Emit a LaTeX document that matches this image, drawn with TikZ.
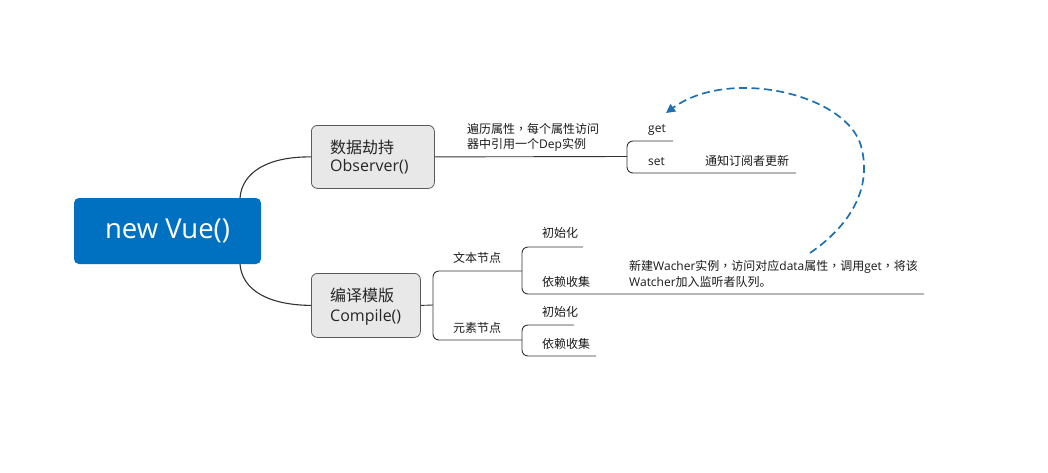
\documentclass[tikz,border=0pt]{standalone}
\usepackage{fontspec}
\setmainfont{Open Sans}
\newfontfamily\cjk{Noto Sans CJK SC}
\newfontfamily\cjktc{Noto Sans CJK TC}
\newcommand{\zcomma}{{\cjktc ，}}
\usetikzlibrary{arrows.meta}
\definecolor{vueblue}{HTML}{0070C0}
\definecolor{boxfill}{HTML}{E8E8E8}
\definecolor{boxline}{HTML}{5A5A5A}
\definecolor{linec}{HTML}{333333}
\definecolor{dashblue}{HTML}{1F70B0}
\begin{document}
\begin{tikzpicture}[x=1pt,y=-1pt,
  vuebox/.style={fill=vueblue, rounded corners=5pt, minimum width=187pt, minimum height=66pt, text=white, font=\fontsize{27.5}{31}\selectfont, inner sep=0},
  graybox/.style={fill=boxfill, draw=boxline, line width=0.8pt, rounded corners=6pt, inner sep=0, anchor=north west},
  boxtext/.style={anchor=west, font=\fontsize{16}{19}\selectfont, text=black!85, inner sep=0},
  small/.style={anchor=west, font=\fontsize{12}{14}\selectfont, inner sep=0, text=black!90},
  conn/.style={draw=linec, line width=1.1pt},
  thinl/.style={draw=linec, line width=0.9pt, rounded corners=6pt},
  dasharrow/.style={draw=dashblue, line width=1.7pt, dash pattern=on 8pt off 4.5pt, -{Triangle[length=9pt,width=9pt]}},
]
\useasboundingbox (0,0) rectangle (1048,472);

% main box
\node[vuebox] (vue) at (167.5,231) {\raisebox{-1pt}{new Vue()}};
\coordinate (vtop) at (240,198);
\coordinate (vbot) at (240,264);

% second level boxes
\node[graybox, minimum width=123pt, minimum height=63pt] (obs) at (311,125) {};
\node[boxtext] (obs1) at (330,147) {\cjk 数据劫持};
\node[boxtext] (obs2) at (330,167) {Observer()};

\node[graybox, minimum width=109pt, minimum height=64pt] (cmp) at (311,273) {};
\node[boxtext] (cmp1) at (330,295) {\cjk 编译模版};
\node[boxtext] (cmp2) at (330,317) {Compile()};

\draw[conn] (vtop) .. controls (242,172) and (268,156.5) .. (obs.west);
\draw[conn] (vbot) .. controls (242,290) and (268,305) .. (cmp.west);

% observer branch
\node[small] (desc1) at (467,129) {{\cjk 遍历属性}\zcomma{\cjk 每个属性访问}};
\node[small] (desc2) at (467,145) {{\cjk 器中引用一个}Dep{\cjk 实例}};
\node[small] (get) at (648,130) {get};
\node[small] (set) at (648,162) {set};
\node[small] (notify) at (705,161) {\cjk 通知订阅者更新};

\coordinate (ob) at (627,156.5);
\draw[thinl] (obs.east) -- (ob);
\draw[thinl] (673,141) coordinate (getend) -- (627,141) -- (627,173) -- (796,173) coordinate (setend);

% compile branch
\node[small] (txt) at (453,258) {\cjk 文本节点};
\node[small] (elm) at (453,328) {\cjk 元素节点};
\node[small] (init1) at (542,233) {\cjk 初始化};
\node[small] (dep1) at (542,282) {\cjk 依赖收集};
\node[small] (init2) at (542,312) {\cjk 初始化};
\node[small] (dep2) at (542,344) {\cjk 依赖收集};
\node[small] (w1) at (629,267) {{\cjk 新建}Wacher{\cjk 实例}\zcomma{\cjk 访问对应}data{\cjk 属性}\zcomma{\cjk 调用}get\zcomma{\cjk 将该}};
\node[small] (w2) at (629,282) {Watcher{\cjk 加入监听者队列。}};

\coordinate (cb) at (433,305);
\draw[thinl] (cmp.east) -- (cb);
\draw[thinl] (522,271) -- (433,271) -- (433,340) -- (522,340);
\draw[thinl] (583,247) -- (522,247) -- (522,294) -- (924,294);
\draw[thinl] (574,325) -- (522,325) -- (522,356) -- (596,356);

% dashed feedback arrow
\coordinate (astart) at (810,253);
\coordinate (aend) at (666,113);
\draw[dasharrow] (astart) .. controls (855,222) and (870,185) .. (862,150) .. controls (852,95) and (730,66) .. (aend);
\end{tikzpicture}
\end{document}
